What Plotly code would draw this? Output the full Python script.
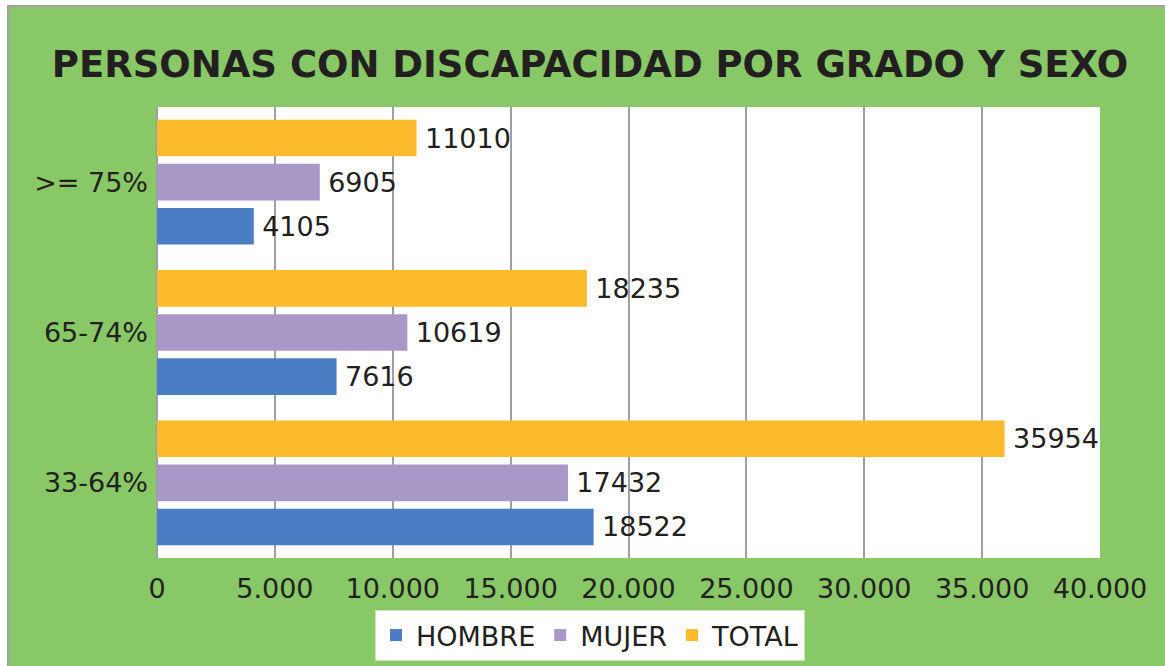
import plotly.graph_objects as go

categories = ["33-64%", "65-74%", ">= 75%"]
hombre = [18522, 7616, 4105]
mujer = [17432, 10619, 6905]
total = [35954, 18235, 11010]
x_ticks = [0, 5000, 10000, 15000, 20000, 25000, 30000, 35000, 40000]
x_tick_labels = ["0", "5.000", "10.000", "15.000", "20.000", "25.000", "30.000", "35.000", "40.000"]

FONT = "DejaVu Sans, Verdana, sans-serif"
TXT = "#231F20"
FS = 27
W, H = 1165, 666
L, R, T, B = 157, 65, 107, 108
pw, ph = W - L - R, H - T - B

def px(xp):
    return (xp - L) / pw

def py(yp):
    return (H - B - yp) / ph

fig = go.Figure()
for name, vals, col in [("HOMBRE", hombre, "#4A7EC4"), ("MUJER", mujer, "#A898C8"), ("TOTAL", total, "#FDBA2A")]:
    fig.add_trace(go.Bar(
        y=categories, x=vals, name=name, orientation="h",
        marker=dict(color=col, line=dict(width=0)),
        text=["\u2009" + str(v) for v in vals], textposition="outside",
        textfont=dict(family=FONT, size=FS, color=TXT),
        cliponaxis=False,
    ))

fig.update_layout(
    width=W, height=H,
    margin=dict(l=L, r=R, t=T, b=B, autoexpand=False),
    paper_bgcolor="white",
    plot_bgcolor="white",
    barmode="group",
    bargap=0.12,
    bargroupgap=0.17,
    title=dict(text="<b>PERSONAS CON DISCAPACIDAD POR GRADO Y SEXO</b>",
               x=px((47 + 1133) / 2), xref="paper", xanchor="center", y=1 - 64 / H, yanchor="middle",
               font=dict(family=FONT, size=37, color=TXT)),
    xaxis=dict(range=[0, 40000], tickvals=x_ticks, ticktext=x_tick_labels,
               showgrid=True, gridcolor="#A0A0A3", gridwidth=2,
               zeroline=True, zerolinecolor="#A0A0A3", zerolinewidth=2,
               showline=False, ticks="", ticklabelstandoff=12, automargin=False,
               tickfont=dict(family=FONT, size=FS, color=TXT)),
    yaxis=dict(showgrid=False, ticks="", showline=False, automargin=False,
               tickfont=dict(family=FONT, size=FS, color=TXT), ticklabelstandoff=8),
    legend=dict(orientation="h", x=0.5 * (px(380) + px(800)), xanchor="center",
                y=py(610), yanchor="top",
                bgcolor="white", bordercolor="#C8E6B8", borderwidth=1,
                font=dict(family=FONT, size=FS, color=TXT),
                itemwidth=30, traceorder="normal"),
    shapes=[
        dict(type="rect", xref="paper", yref="paper", layer="below",
             x0=px(8), x1=px(W + 5), y0=py(H + 5), y1=py(6),
             fillcolor="#88C866", line=dict(color="#A0A0A0", width=2)),
        dict(type="rect", xref="paper", yref="paper", layer="below",
             x0=0, x1=1, y0=0, y1=1,
             fillcolor="white", line=dict(width=0)),
    ],
)

fig.write_html("out.html", config={"displayModeBar": False},
               post_script="document.body.style.margin='0';document.body.style.overflow='hidden';")
